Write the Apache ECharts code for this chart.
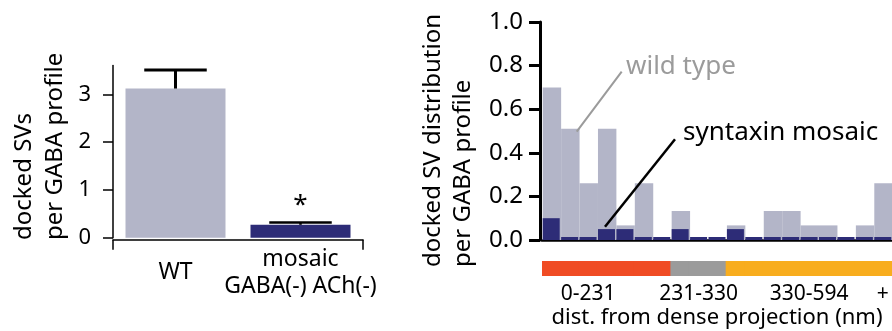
<!DOCTYPE html>
<html>
<head>
<meta charset="utf-8">
<script src="https://cdn.jsdelivr.net/npm/echarts@6.0.0/dist/echarts.min.js"></script>
<style>
  html, body { margin: 0; padding: 0; background: #fff; }
  #main { width: 892px; height: 331px; }
</style>
</head>
<body>
<div id="main"></div>
<script>
// left panel: docked SVs per GABA profile
var groups = ['WT', 'mosaic\nGABA(-) ACh(-)'];
var groupMeans = [3.12, 0.27];
var groupErrors = [0.39, 0.05];
var groupSig = ['', '*'];
var leftTicks = [0, 1, 2, 3];

// right panel: distribution over distance bins
var bins = ['1', '2', '3', '4', '5', '6', '7', '8', '9', '10', '11', '12', '13', '14', '15', '16', '17', '18', '19'];
var wildType = [0.70, 0.51, 0.26, 0.51, 0.067, 0.26, 0, 0.133, 0, 0, 0.067, 0, 0.133, 0.133, 0.067, 0.067, 0, 0.067, 0.26];
var syntaxinMosaic = [0.10, 0, 0, 0.05, 0.05, 0, 0, 0.05, 0, 0, 0.05, 0, 0, 0, 0, 0, 0, 0, 0];
var binZone = [0, 0, 0, 0, 0, 0, 0, 1, 1, 1, 2, 2, 2, 2, 2, 2, 2, 2, 2];
var binLabels = ['', '', '0-231', '', '', '', '', '', '231-330', '', '', '', '', '', '330-594', '', '', '', '+'];

var FONT = '"Noto Sans", "Open Sans", sans-serif';
var LIGHT = '#B3B5C8';
var DARK = '#2D2C77';
var zoneColors = ['#F04C24', '#9B9B9B', '#F8AD1E'];

var chart = echarts.init(document.getElementById('main'), null, { renderer: 'canvas' });

// mean -> mean+err stem with a cap
function errorBar(params, api) {
	var x = api.value(0);
	var m = api.value(1);
	var e = api.value(2);
	var base = api.coord([x, m]);
	var top = api.coord([x, m + e]);
	var half = api.size([1, 0])[0] * 0.25;
	var lw = params.dataIndex === 0 ? 3 : 2.5;
	return {
		type: 'group',
		children: [
			{ type: 'line', shape: { x1: base[0], y1: base[1], x2: top[0], y2: top[1] }, style: { stroke: '#000', lineWidth: lw } },
			{ type: 'line', shape: { x1: top[0] - half, y1: top[1], x2: top[0] + half, y2: top[1] }, style: { stroke: '#000', lineWidth: lw } }
		]
	};
}

var option = {
	animation: false,
	textStyle: { fontFamily: FONT, color: '#000' },
	grid: [
		{ left: 113, width: 250, top: 65.6, height: 172.1 },
		{ left: 542, right: -4, top: 22, height: 218 },
		{ left: 542, right: -4, top: 261, height: 15 }
	],
	xAxis: [
		{
			type: 'category', gridIndex: 0, data: groups, position: 'bottom', offset: 2,
			axisLine: { show: false },
			axisTick: { show: false },
			axisLabel: { interval: 0, fontSize: 23, color: '#000', fontFamily: FONT, lineHeight: 27, verticalAlign: 'middle', margin: 33 }
		},
		{
			type: 'category', gridIndex: 1, data: bins, offset: 3,
			axisLine: { lineStyle: { color: '#000', width: 2.5 } },
			axisTick: { length: 10, interval: 0, lineStyle: { color: '#000', width: 2.5 } },
			axisLabel: { show: false }
		},
		{
			type: 'category', gridIndex: 2, data: bins,
			axisLine: { show: false }, axisTick: { show: false },
			axisLabel: {
				interval: 0, fontSize: 21, color: '#000', fontFamily: FONT, margin: 8,
				formatter: function (v, i) { return binLabels[i]; }
			},
			name: 'dist. from dense projection (nm)', nameLocation: 'middle', nameGap: 31,
			nameTextStyle: { fontSize: 22, color: '#000', fontFamily: FONT }
		},
		{
			// outer frame of the left x axis: ticks only at both ends
			type: 'value', gridIndex: 0, min: 0, max: groups.length, interval: groups.length,
			position: 'bottom', offset: 2, splitLine: { show: false },
			axisLine: { show: true, lineStyle: { color: '#000', width: 1.5 } },
			axisTick: { show: true, length: 10, lineStyle: { color: '#000', width: 1.5 } },
			axisLabel: { show: false }
		}
	],
	yAxis: [
		{
			type: 'value', gridIndex: 0, min: 0, max: 3.6, offset: 2, splitLine: { show: false },
			axisLine: { show: true, lineStyle: { color: '#000', width: 1.5 } },
			axisTick: { show: true, length: 10, customValues: leftTicks, lineStyle: { color: '#000', width: 1.5 } },
			axisLabel: { customValues: leftTicks, fontSize: 22, color: '#000', fontFamily: FONT, margin: 20 }
		},
		{
			type: 'value', gridIndex: 1, min: 0, max: 1, interval: 0.2, offset: 2, splitLine: { show: false },
			axisLine: { show: true, lineStyle: { color: '#000', width: 3 } },
			axisTick: { show: true, length: 11, lineStyle: { color: '#000', width: 3 } },
			axisLabel: { fontSize: 24, color: '#000', fontFamily: FONT, margin: 17, formatter: function (v) { return v.toFixed(1); } }
		},
		{ type: 'value', gridIndex: 2, min: 0, max: 1, show: false }
	],
	series: [
		{
			type: 'bar', xAxisIndex: 0, yAxisIndex: 0, barWidth: '80%',
			data: groupMeans.map(function (v, i) {
				return { value: v, itemStyle: { color: i === 0 ? LIGHT : DARK } };
			}),
			label: {
				show: true, position: 'top', distance: 6, fontSize: 26, color: '#000', fontFamily: FONT,
				formatter: function (p) { return groupSig[p.dataIndex]; }
			}
		},
		{
			type: 'custom', xAxisIndex: 0, yAxisIndex: 0, z: 5,
			renderItem: errorBar,
			data: groupMeans.map(function (v, i) { return [i, v, groupErrors[i]]; })
		},
		{
			name: 'wild type', type: 'bar', xAxisIndex: 1, yAxisIndex: 1,
			barWidth: '100%', barGap: '-100%',
			itemStyle: { color: LIGHT },
			data: wildType
		},
		{
			name: 'syntaxin mosaic', type: 'bar', xAxisIndex: 1, yAxisIndex: 1,
			barWidth: 17, barGap: '-100%', barMinHeight: 3,
			itemStyle: { color: DARK },
			data: syntaxinMosaic
		},
		{
			// colour band under the histogram
			type: 'bar', xAxisIndex: 2, yAxisIndex: 2, barWidth: 19.5, silent: true,
			data: binZone.map(function (z) {
				return { value: 1, itemStyle: { color: zoneColors[z] } };
			})
		}
	],
	graphic: [
		// axis titles
		{
			type: 'text', x: 9, y: 240, rotation: Math.PI / 2,
			style: { text: 'docked SVs\nper GABA profile', font: '24px ' + FONT, lineHeight: 31, align: 'left', verticalAlign: 'top', fill: '#000' }
		},
		{
			type: 'text', x: 418, y: 267, rotation: Math.PI / 2,
			style: { text: 'docked SV distribution\nper GABA profile', font: '24px ' + FONT, lineHeight: 30, align: 'left', verticalAlign: 'top', fill: '#000' }
		},
		// annotations
		{ type: 'line', shape: { x1: 621.7, y1: 71.7, x2: 576.7, y2: 131.7 }, style: { stroke: '#9B9B9B', lineWidth: 2 }, z: 10 },
		{ type: 'text', x: 626, y: 67, style: { text: 'wild type', font: '26px ' + FONT, fill: '#9B9B9B', align: 'left', verticalAlign: 'middle' } },
		{ type: 'line', shape: { x1: 675, y1: 139.3, x2: 605, y2: 226.7 }, style: { stroke: '#000', lineWidth: 2.5 }, z: 10 },
		{ type: 'text', x: 683, y: 132.5, style: { text: 'syntaxin mosaic', font: '26px ' + FONT, fill: '#000', align: 'left', verticalAlign: 'middle' } }
	]
};

chart.setOption(option);
</script>
</body>
</html>
